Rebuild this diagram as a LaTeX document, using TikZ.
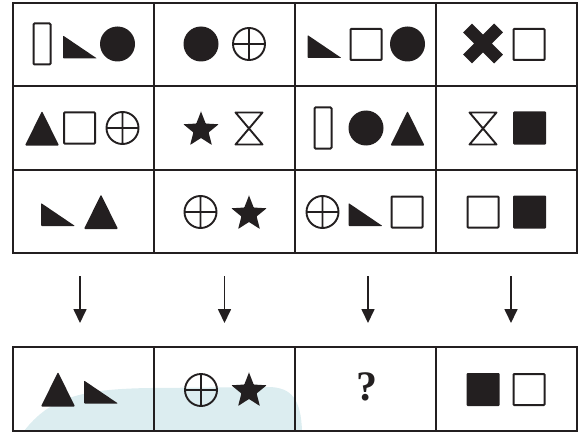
\documentclass[tikz,border=0pt]{standalone}
\usepackage{fontspec}
\newfontfamily\qfont{Liberation Serif}
\usetikzlibrary{arrows.meta}
\pgfdeclarelayer{background}
\pgfsetlayers{background,main}
\definecolor{ink}{HTML}{231F20}
\definecolor{wash}{HTML}{DCEDF0}

\tikzset{
  pics/tallbar/.style={code={\draw[ink,line width=2pt,rounded corners=1pt] (-8.5,-20.5) rectangle (8.5,20.5);}},
  pics/wedge/.style={code={\fill[ink,rounded corners=0.8pt] (-17,-11.5) -- (-17,11.5) -- (17,11.5) -- cycle;}},
  pics/dot/.style={code={\fill[ink] (0,0) circle (17.5pt);}},
  pics/crossdisc/.style={code={\draw[ink,line width=1.9pt] (0,0) circle (16pt)
      (-16,0) -- (16,0) (0,-16) -- (0,16);}},
  pics/opensq/.style={code={\draw[ink,line width=2pt,rounded corners=0.8pt] (-15.5,-15.5) rectangle (15.5,15.5);}},
  pics/solidsq/.style={code={\fill[ink,rounded corners=1pt] (-16.5,-16.5) rectangle (16.5,16.5);}},
  pics/peak/.style={code={\fill[ink,rounded corners=1pt] (0,-17.5) -- (17,17) -- (-17,17) -- cycle;}},
  pics/fivestar/.style={code={\fill[ink,rounded corners=0.5pt] (-90:18.5) \foreach \a in {0,72,...,288}{ -- (-54+\a:8) -- (-18+\a:18.5)} -- cycle;}},
  pics/hourglass/.style={code={\draw[ink,line width=1.9pt,line join=round]
      (-13.5,-16) -- (13.5,-16) -- (-13.5,16) -- (13.5,16) -- cycle;}},
  pics/bigx/.style={code={\draw[ink,line width=12.5pt] (-15.5,-15.5) -- (15.5,15.5) (-15.5,15.5) -- (15.5,-15.5);}}
}

\begin{document}
\begin{tikzpicture}[
    x=1pt,y=-1pt,
    cell/.style={draw=ink,line width=2.1pt,minimum width=141pt,minimum height=83.5pt,inner sep=0pt},
    link/.style={ink,line width=1.7pt,-{Triangle[length=14pt,width=13pt]}}
  ]
    \useasboundingbox (0,0) rectangle (583,433);
    \begin{pgfonlayer}{background}
      \fill[wash] (24,431) .. controls (50,398) and (80,389) .. (150,388) -- (268,387)
        .. controls (292,387) and (301,400) .. (302,431) -- cycle;
    \end{pgfonlayer}

    % question grid
    \node[cell] (r1c1) at (83.5,44.5) {};
    \node[cell] (r1c2) at (224.5,44.5) {};
    \node[cell] (r1c3) at (365.5,44.5) {};
    \node[cell] (r1c4) at (506.5,44.5) {};
    \node[cell] (r2c1) at (83.5,128) {};
    \node[cell] (r2c2) at (224.5,128) {};
    \node[cell] (r2c3) at (365.5,128) {};
    \node[cell] (r2c4) at (506.5,128) {};
    \node[cell] (r3c1) at (83.5,211.5) {};
    \node[cell] (r3c2) at (224.5,211.5) {};
    \node[cell] (r3c3) at (365.5,211.5) {};
    \node[cell] (r3c4) at (506.5,211.5) {};

    % answer row
    \node[cell,minimum height=84pt] (ans1) at (83.5,389) {};
    \node[cell,minimum height=84pt] (ans2) at (224.5,389) {};
    \node[cell,minimum height=84pt] (ans3) at (365.5,389) {};
    \node[cell,minimum height=84pt] (ans4) at (506.5,389) {};

    % row 1
    \pic at (42,44) {tallbar};
    \pic at (80,47) {wedge};
    \pic at (117.5,44) {dot};
    \pic at (201,44) {dot};
    \pic at (249,44) {crossdisc};
    \pic at (324.5,46.5) {wedge};
    \pic at (366,44.5) {opensq};
    \pic at (407.5,44) {dot};
    \pic at (483,43.5) {bigx};
    \pic at (529,44.5) {opensq};

    % row 2
    \pic at (42,128.5) {peak};
    \pic at (79.5,128) {opensq};
    \pic at (122.5,128) {crossdisc};
    \pic at (201,130) {fivestar};
    \pic at (249,128.5) {hourglass};
    \pic at (323,128) {tallbar};
    \pic at (366,128) {dot};
    \pic at (407.5,128.5) {peak};
    \pic at (483,128.5) {hourglass};
    \pic at (529.5,128) {solidsq};

    % row 3
    \pic at (58,214.5) {wedge};
    \pic at (101,212) {peak};
    \pic at (200.5,212) {crossdisc};
    \pic at (249,214) {fivestar};
    \pic at (322.5,212) {crossdisc};
    \pic at (365.5,214.5) {wedge};
    \pic at (407,212) {opensq};
    \pic at (483,212) {opensq};
    \pic at (529.5,212) {solidsq};

    % answers
    \pic at (58,389.5) {peak};
    \pic at (101,392) {wedge};
    \pic at (201,390) {crossdisc};
    \pic at (249,391) {fivestar};
    \node[ink,font=\qfont\bfseries\fontsize{42}{42}\selectfont] (qmark) at (367,387) {?};
    \pic at (483,389.5) {solidsq};
    \pic at (529,389.5) {opensq};

    % arrows
    \coordinate (t1) at (80,276);
    \coordinate (h1) at (80,323);
    \coordinate (t2) at (224.5,276);
    \coordinate (h2) at (224.5,323);
    \coordinate (t3) at (368,276);
    \coordinate (h3) at (368,323);
    \coordinate (t4) at (511,276);
    \coordinate (h4) at (511,323);
    \draw[link] (t1) -- (h1);
    \draw[link] (t2) -- (h2);
    \draw[link] (t3) -- (h3);
    \draw[link] (t4) -- (h4);
  \end{tikzpicture}
\end{document}
